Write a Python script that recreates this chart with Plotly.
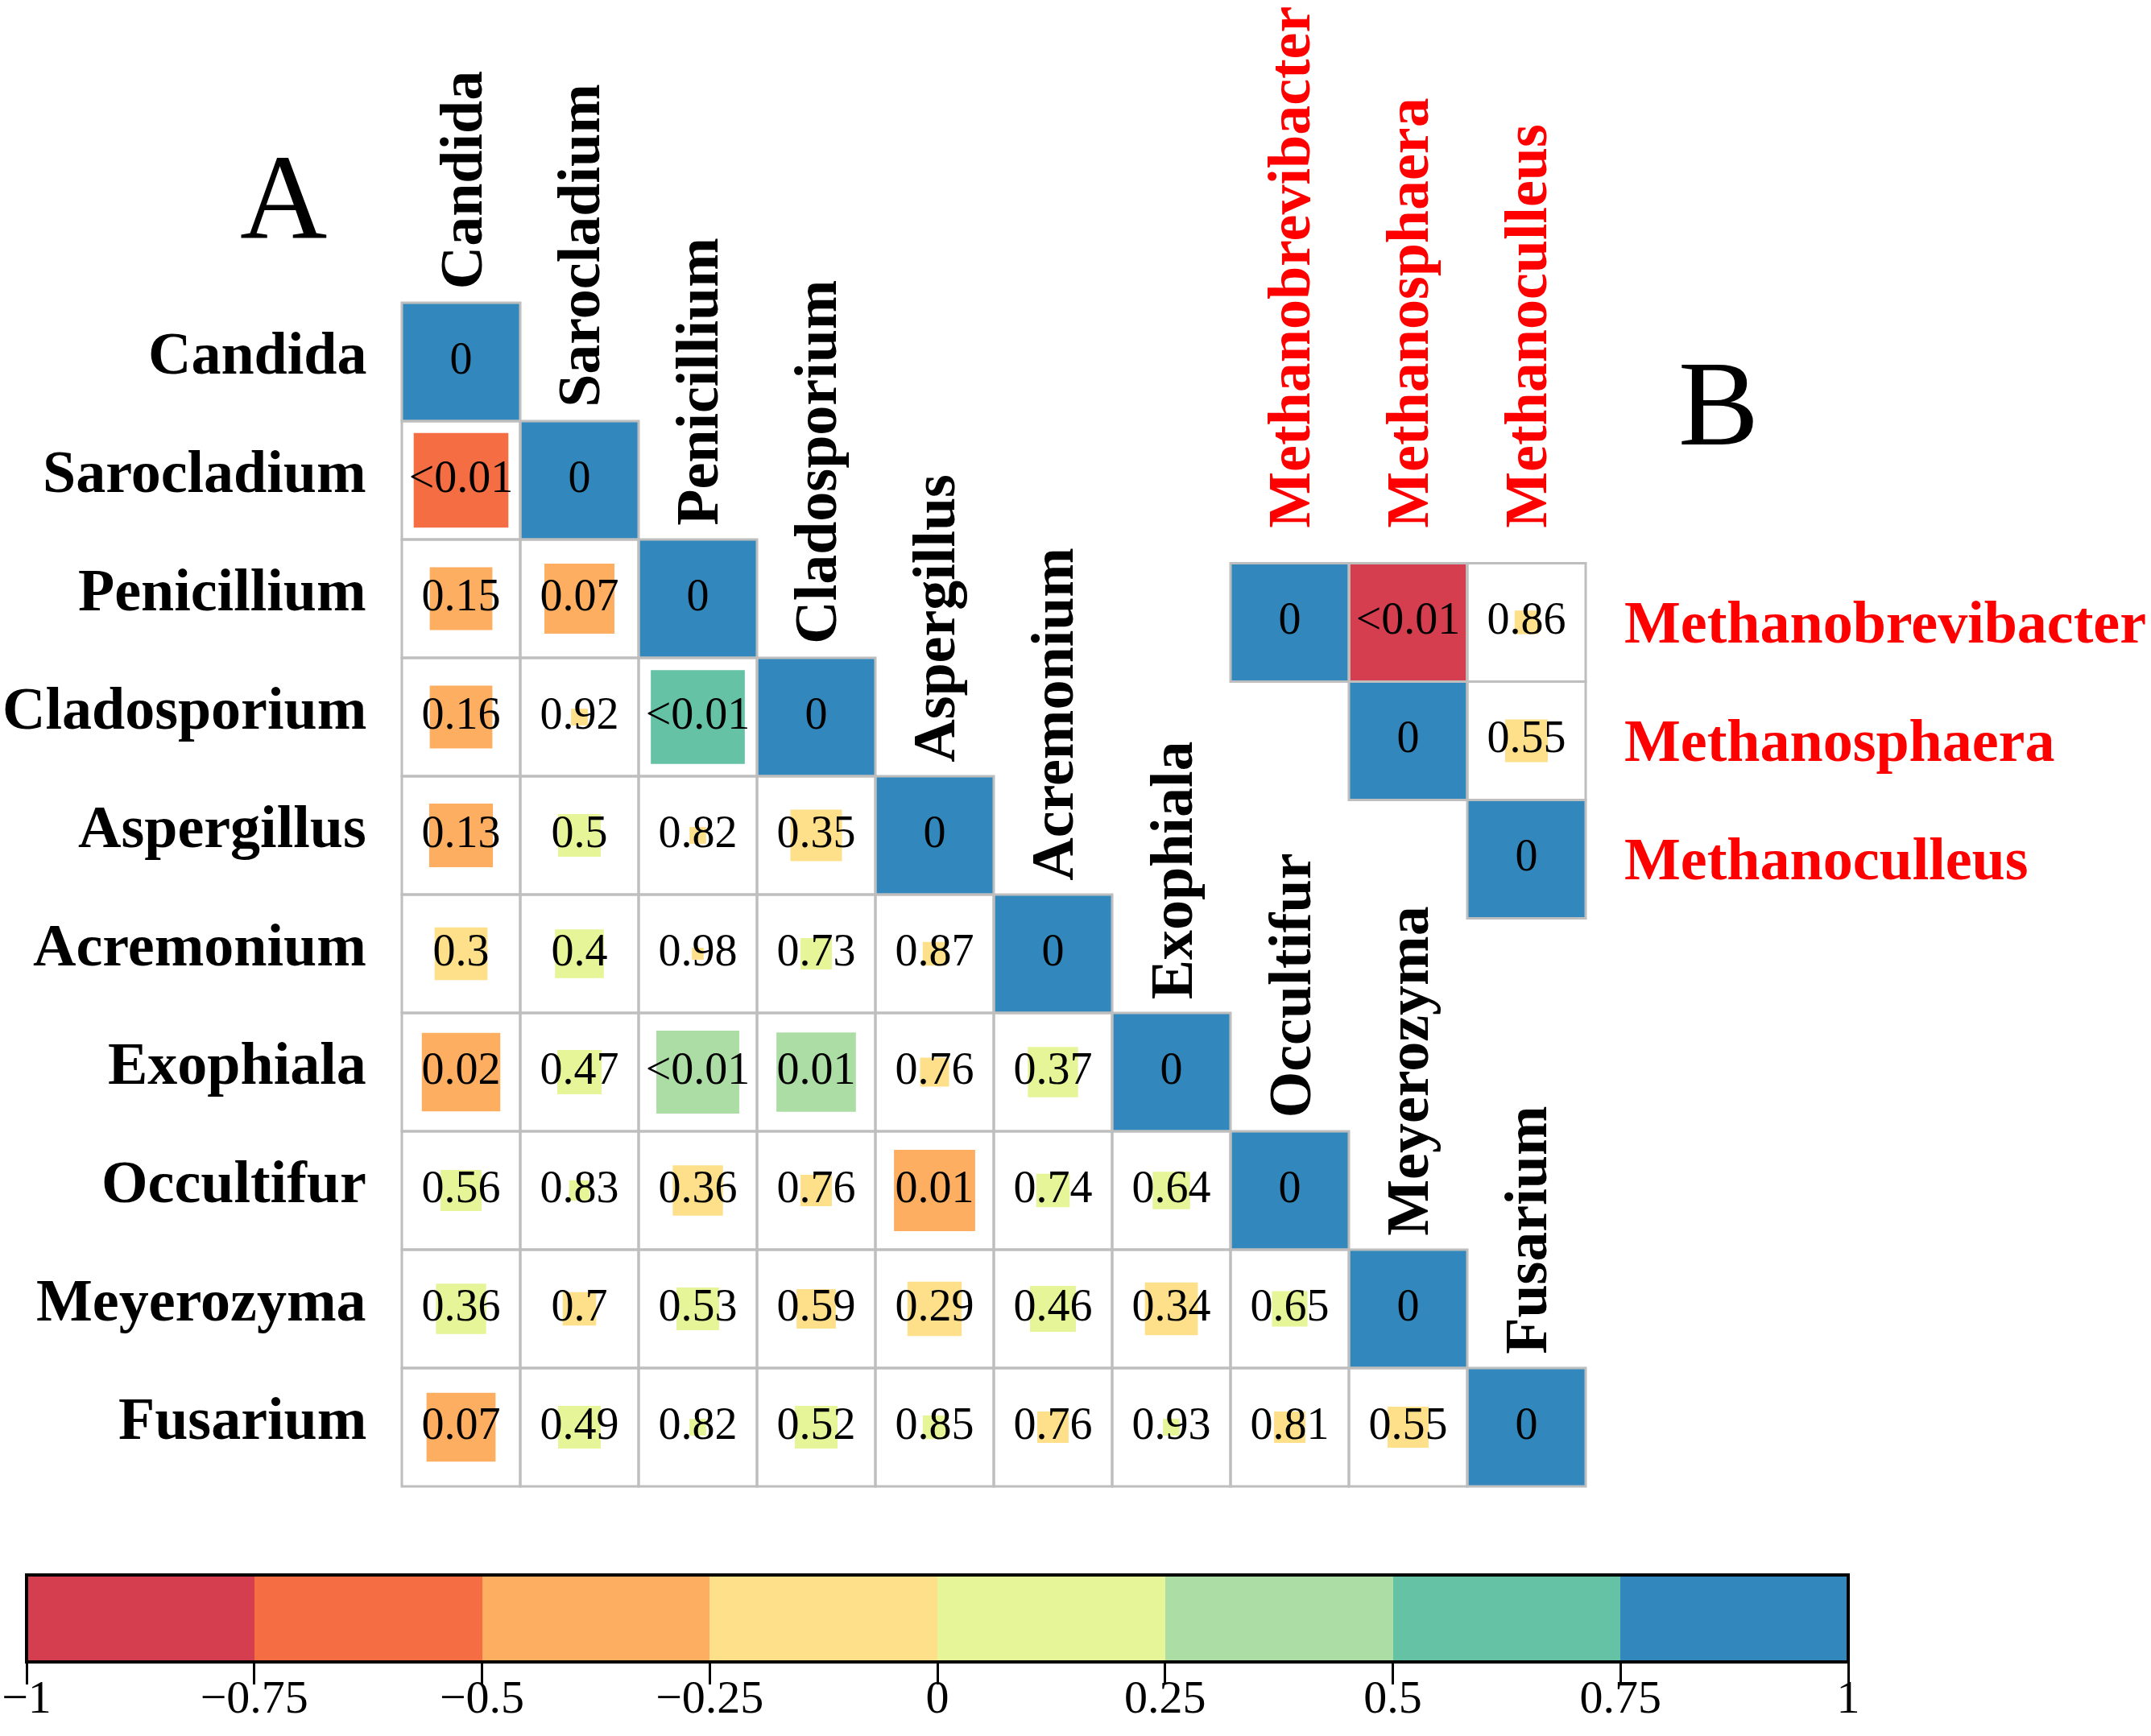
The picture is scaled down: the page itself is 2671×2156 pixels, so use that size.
import plotly.graph_objects as go

# panel A: fungal genera, lower triangle of correlations and p-values
genera_a = ["Candida", "Sarocladium", "Penicillium", "Cladosporium", "Aspergillus",
            "Acremonium", "Exophiala", "Occultifur", "Meyerozyma", "Fusarium"]
r_a = [
    [],
    [-0.64],
    [-0.28, -0.35],
    [-0.28, -0.02, 0.63],
    [-0.29, 0.13, -0.02, -0.19],
    [-0.20, 0.17, -0.01, 0.07, -0.04],
    [-0.44, 0.14, 0.49, 0.45, -0.06, 0.18],
    [0.12, 0.03, -0.18, -0.07, -0.47, 0.08, 0.10],
    [0.18, -0.08, 0.13, -0.11, -0.21, 0.15, -0.20, 0.09],
    [-0.34, 0.13, 0.02, 0.13, 0.04, -0.07, 0.02, -0.07, -0.12],
]
p_a = [
    [],
    ["<0.01"],
    ["0.15", "0.07"],
    ["0.16", "0.92", "<0.01"],
    ["0.13", "0.5", "0.82", "0.35"],
    ["0.3", "0.4", "0.98", "0.73", "0.87"],
    ["0.02", "0.47", "<0.01", "0.01", "0.76", "0.37"],
    ["0.56", "0.83", "0.36", "0.76", "0.01", "0.74", "0.64"],
    ["0.36", "0.7", "0.53", "0.59", "0.29", "0.46", "0.34", "0.65"],
    ["0.07", "0.49", "0.82", "0.52", "0.85", "0.76", "0.93", "0.81", "0.55"],
]

# panel B: methanogens, upper triangle
genera_b = ["Methanobrevibacter", "Methanosphaera", "Methanoculleus"]
r_b = [[-0.96, -0.04], [-0.13], []]
p_b = [["<0.01", "0.86"], ["0.55"], []]

bar_ticks = [-1, -0.75, -0.5, -0.25, 0, 0.25, 0.5, 0.75, 1]
bar_labels = ["\u22121", "\u22120.75", "\u22120.5", "\u22120.25", "0", "0.25", "0.5", "0.75", "1"]
palette = ["#D53E4F", "#F46D43", "#FDAE61", "#FEE08B", "#E6F598", "#ABDDA4", "#66C2A5", "#3288BD"]

W, H = 2671, 2156
CELL = 147  # pixels per cell
x0 = -0.5 - 499 / CELL
y0 = -0.5 - 376 / CELL
B_X = 7      # first column of panel B
B_Y = 2.2    # first row of panel B
BAR_L, BAR_R, BAR_TOP = 33, 2295, 1956   # colour bar box, pixels
SERIF = "Liberation Serif"

# discrete colour scale
cs = []
for k, c in enumerate(palette):
    cs.append([k / len(palette), c])
    cs.append([(k + 1) / len(palette), c])

xs, ys, rs, txt = [], [], [], []
cells = []
for i in range(len(genera_a)):
    for j in range(i + 1):
        r = 1.0 if i == j else r_a[i][j]
        xs.append(j); ys.append(i); rs.append(r)
        txt.append("0" if i == j else p_a[i][j])
        cells.append((j, i))
for i in range(len(genera_b)):
    for j in range(i, len(genera_b)):
        r = 1.0 if i == j else r_b[i][j - i - 1]
        xs.append(B_X + j); ys.append(B_Y + i); rs.append(r)
        txt.append("0" if i == j else p_b[i][j - i - 1])
        cells.append((B_X + j, B_Y + i))

sizes = [abs(r) ** 0.5 * CELL for r in rs]

fig = go.Figure()
fig.add_trace(go.Scatter(
    x=xs, y=ys, mode="markers", hoverinfo="skip",
    marker=dict(symbol="square", size=sizes, color=rs, colorscale=cs, cmin=-1, cmax=1,
                line=dict(width=0), opacity=1, showscale=True,
                colorbar=dict(orientation="h", lenmode="pixels", len=BAR_R - BAR_L,
                              thickness=108, xref="container", yref="container",
                              x=(BAR_L + BAR_R) / 2 / W, xanchor="center",
                              y=1 - BAR_TOP / H, yanchor="top", xpad=0, ypad=0,
                              outlinewidth=4, outlinecolor="black",
                              tickvals=bar_ticks, showticklabels=False,
                              ticks="outside", ticklen=26, tickwidth=3, tickcolor="black")),
))
fig.add_trace(go.Scatter(
    x=xs, y=ys, mode="text", text=txt, hoverinfo="skip",
    textfont=dict(family=SERIF, size=56, color="black"),
))
# helper axis that carries the colour bar's tick labels
fig.add_trace(go.Scatter(x=bar_ticks, y=[0] * len(bar_ticks), xaxis="x2", yaxis="y2",
                         mode="none", hoverinfo="skip", showlegend=False))

for (cx, cy) in cells:
    fig.add_shape(type="rect", x0=cx - 0.5, x1=cx + 0.5, y0=cy - 0.5, y1=cy + 0.5,
                  line=dict(color="#BEBEBE", width=3), layer="above")

lab_font = dict(family=SERIF, size=74, color="black")
red_font = dict(family=SERIF, size=74, color="#FF0000")
for i, g in enumerate(genera_a):
    fig.add_annotation(x=-0.786, y=i, text="<b>%s</b>" % g, showarrow=False,
                       xanchor="right", yanchor="middle", yshift=11, font=lab_font)
    fig.add_annotation(x=i, y=i - 0.6, text="<b>%s</b>" % g, showarrow=False,
                       textangle=-90, xanchor="center", yanchor="bottom", font=lab_font)
for i, g in enumerate(genera_b):
    fig.add_annotation(x=9.81, y=B_Y + i, text="<b>%s</b>" % g, showarrow=False,
                       xanchor="left", yanchor="middle", font=red_font)
    fig.add_annotation(x=B_X + i, y=B_Y - 0.78, text="<b>%s</b>" % g, showarrow=False,
                       textangle=-90, xanchor="center", yanchor="bottom", font=red_font)

fig.add_annotation(x=-1.5, y=-1.4, text="A", showarrow=False,
                   font=dict(family=SERIF, size=150, color="black"))
fig.add_annotation(x=10.62, y=0.35, text="B", showarrow=False,
                   font=dict(family=SERIF, size=150, color="black"))

fig.update_layout(
    width=W, height=H, margin=dict(l=0, r=0, t=0, b=0, autoexpand=False),
    paper_bgcolor="white", plot_bgcolor="white", showlegend=False,
    xaxis=dict(range=[x0, x0 + W / CELL], visible=False, fixedrange=True),
    yaxis=dict(range=[y0 + H / CELL, y0], visible=False, fixedrange=True),
    xaxis2=dict(domain=[BAR_L / W, BAR_R / W], range=[-1, 1], anchor="free",
                position=1 - 2068 / H, showline=False, showgrid=False, zeroline=False,
                ticks="", tickvals=bar_ticks, ticktext=bar_labels, fixedrange=True,
                tickfont=dict(family=SERIF, size=58, color="black")),
    yaxis2=dict(domain=[0, 0.02], visible=False, fixedrange=True),
)
# no page margin around the figure
page_js = "document.body.style.margin='0';"
fig.write_html("out.html", config={"displayModeBar": False}, post_script=page_js)
